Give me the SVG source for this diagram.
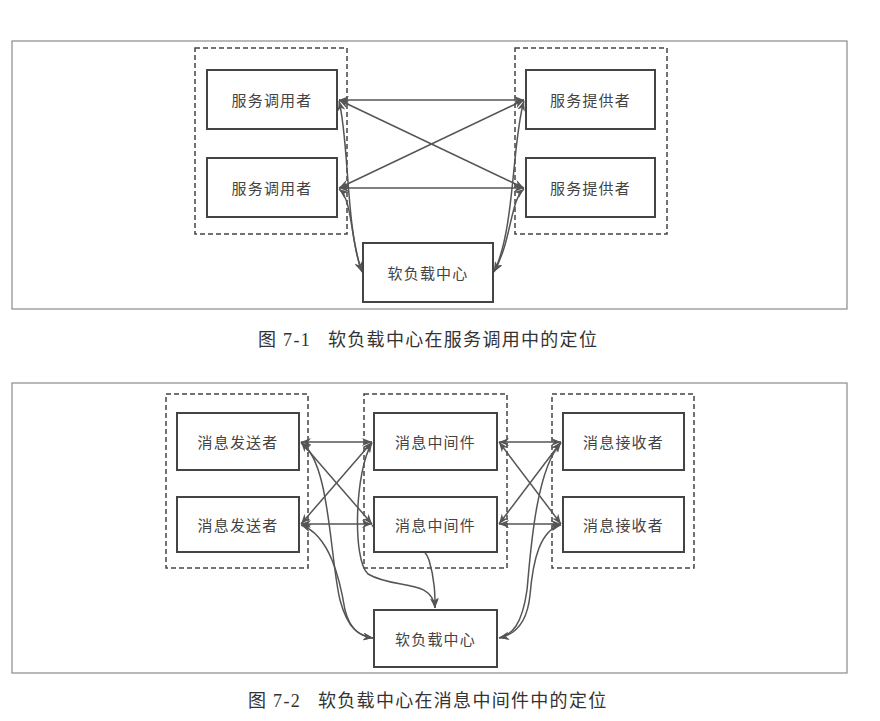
<svg xmlns="http://www.w3.org/2000/svg" width="880" height="721" viewBox="0 0 880 721">
<style>
.frame{fill:none;stroke:#8a8a8a;stroke-width:1.2}
.grp{fill:none;stroke:#444;stroke-width:1.5;stroke-dasharray:5 3}
.node rect{fill:#fff;stroke:#444;stroke-width:2}
.node text{font-family:"Noto Sans CJK SC","Noto Sans",sans-serif;font-size:15px;fill:#444;text-anchor:middle;dominant-baseline:central;letter-spacing:1.2px}
.conn path,.conn line{fill:none;stroke:#555;stroke-width:1.5;marker-end:url(#ah);marker-start:url(#ah)}
.cap{font-family:"Liberation Serif","Noto Sans CJK SC",serif;font-size:18px;fill:#333;letter-spacing:1.3px}
</style>
<defs>
<marker id="ah" markerUnits="userSpaceOnUse" markerWidth="10" markerHeight="8" refX="10" refY="4" orient="auto-start-reverse">
<path d="M0,0 L10,4 L0,8 L3,4 z" fill="#555"/>
</marker>
</defs>
<rect width="880" height="721" fill="#fff"/>

<!-- Figure 7-1 -->
<rect class="frame" x="12" y="41" width="835" height="268"/>
<rect class="grp" x="195" y="48" width="152" height="186"/>
<rect class="grp" x="515" y="48" width="152" height="186"/>

<g class="conn" id="conn1">
<line x1="339" y1="100" x2="524" y2="100"/>
<line x1="339" y1="188" x2="524" y2="188"/>
<line x1="339" y1="100" x2="524" y2="188"/>
<line x1="339" y1="188" x2="524" y2="100"/>
<path d="M339,101 C349,140 346,230 362,272"/>
<path d="M339,189 C353,200 350,240 362,272"/>
<path d="M524,101 C512,140 515,230 494,272"/>
<path d="M524,189 C510,200 512,240 494,272"/>
</g>

<g class="node" id="caller1"><rect x="207" y="70" width="130" height="59"/><text x="272" y="99.5">服务调用者</text></g>
<g class="node" id="caller2"><rect x="207" y="158" width="130" height="59"/><text x="272" y="187.5">服务调用者</text></g>
<g class="node" id="provider1"><rect x="526" y="70" width="129" height="59"/><text x="590.5" y="99.5">服务提供者</text></g>
<g class="node" id="provider2"><rect x="526" y="158" width="129" height="59"/><text x="590.5" y="187.5">服务提供者</text></g>
<g class="node" id="slb1"><rect x="363" y="243" width="130" height="59"/><text x="428" y="272.5">软负载中心</text></g>

<text class="cap" x="258" y="346">图 7-1<tspan x="328">软负载中心在服务调用中的定位</tspan></text>

<!-- Figure 7-2 -->
<rect class="frame" x="12" y="383" width="835" height="290"/>
<rect class="grp" x="166" y="394" width="142" height="174"/>
<rect class="grp" x="364" y="394" width="143" height="174"/>
<rect class="grp" x="552" y="394" width="142" height="174"/>

<g class="conn" id="conn2">
<line x1="301" y1="442" x2="372" y2="442"/>
<line x1="301" y1="524" x2="372" y2="524"/>
<line x1="301" y1="442" x2="372" y2="524"/>
<line x1="301" y1="524" x2="372" y2="442"/>
<line x1="499" y1="442" x2="561" y2="442"/>
<line x1="499" y1="524" x2="561" y2="524"/>
<line x1="499" y1="442" x2="561" y2="524"/>
<line x1="499" y1="524" x2="561" y2="442"/>
<path d="M301,443 C330,460 330,560 340,600 C348,630 360,636 373,638"/>
<path d="M301,525 C330,535 340,580 345,610 C350,630 360,636 373,638"/>
<path d="M372,443 C355,470 352,560 368,574 C395,590 432,578 435,608"/>
<path d="M372,525 C390,545 420,535 429,560 C435,580 435,595 435,608"/>
<path d="M561,443 C535,470 530,560 527,590 C522,625 512,635 499,638"/>
<path d="M561,525 C540,530 533,560 530,595 C527,625 514,635 499,638"/>
</g>

<g class="node" id="sender1"><rect x="177" y="413" width="122" height="57"/><text x="238" y="441.5">消息发送者</text></g>
<g class="node" id="sender2"><rect x="177" y="497" width="122" height="55"/><text x="238" y="524.5">消息发送者</text></g>
<g class="node" id="mw1"><rect x="374" y="413" width="123" height="57"/><text x="435.5" y="441.5">消息中间件</text></g>
<g class="node" id="mw2"><rect x="374" y="497" width="123" height="55"/><text x="435.5" y="524.5">消息中间件</text></g>
<g class="node" id="recv1"><rect x="563" y="413" width="121" height="57"/><text x="623.5" y="441.5">消息接收者</text></g>
<g class="node" id="recv2"><rect x="563" y="497" width="121" height="55"/><text x="623.5" y="524.5">消息接收者</text></g>
<g class="node" id="slb2"><rect x="374" y="610" width="123" height="57"/><text x="435.5" y="638.5">软负载中心</text></g>

<text class="cap" x="248" y="707">图 7-2<tspan x="318">软负载中心在消息中间件中的定位</tspan></text>
</svg>
